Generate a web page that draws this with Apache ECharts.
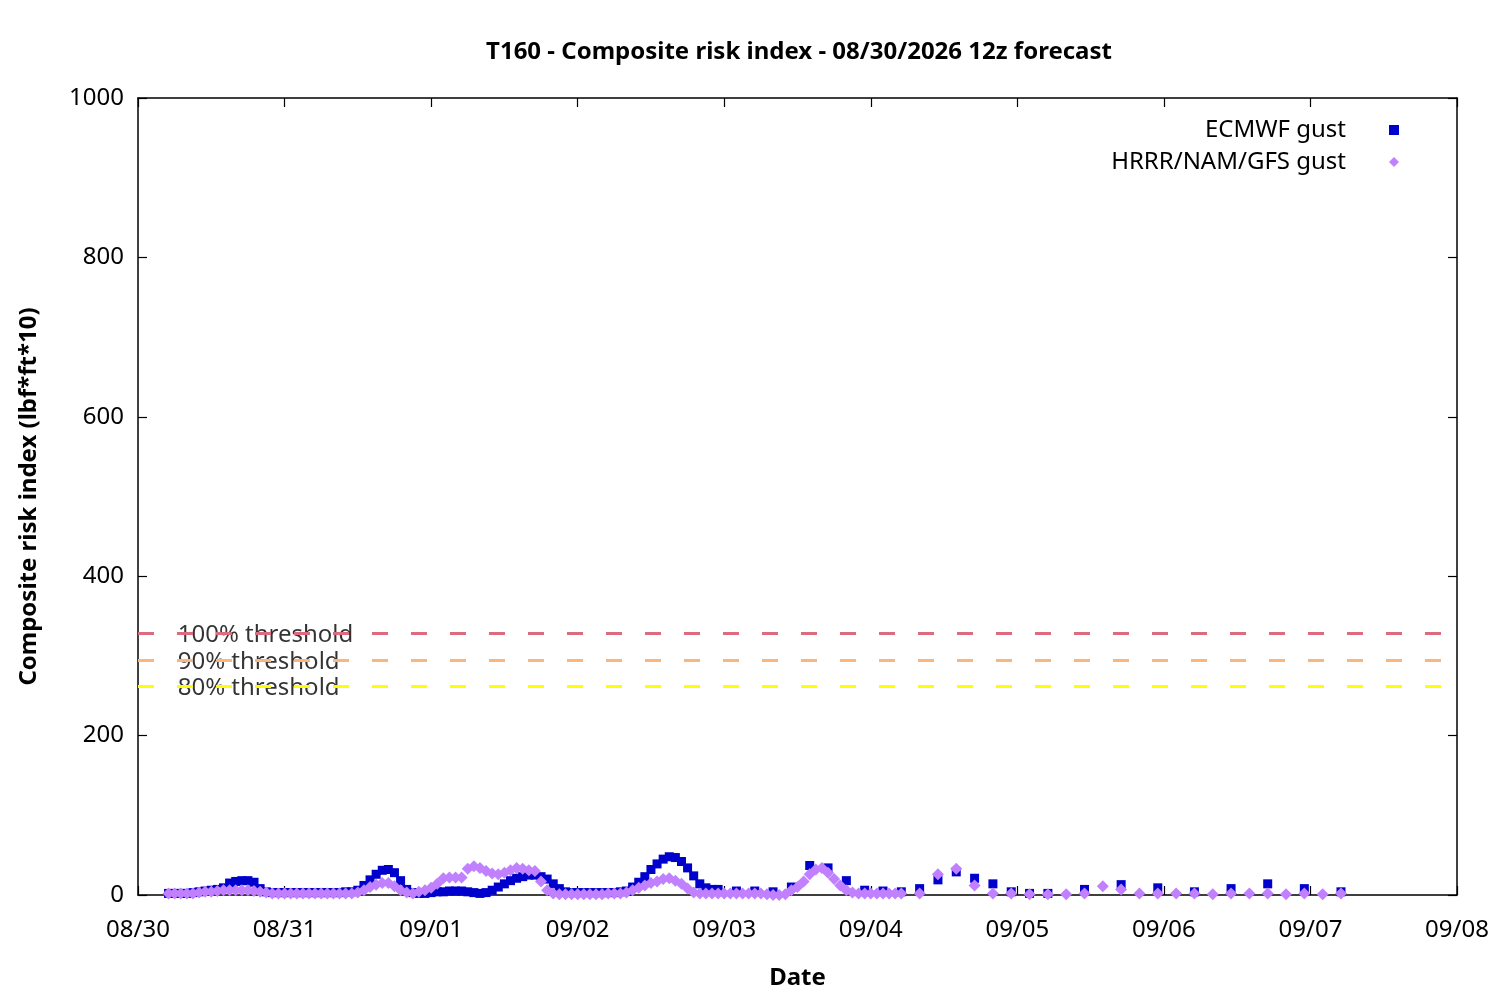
<!DOCTYPE html>
<html>
<head>
<meta charset="UTF-8">
<title>T160 composite risk index</title>
<script src="https://cdn.jsdelivr.net/npm/echarts@6/dist/echarts.min.js"></script>
<style>
  html, body { margin: 0; padding: 0; background: #fff; }
  #chart { width: 1500px; height: 1000px; }
</style>
</head>
<body>
<div id="chart"></div>
<script type="text/javascript">
// x axis: one tick per day at 00 local, value = hours since 08/30 00:00
var dayLabels = ['08/30', '08/31', '09/01', '09/02', '09/03', '09/04', '09/05', '09/06', '09/07', '09/08'];
// first valid time of the 12z run is 08/30 05:00 local
var runStartHour = 5;

// forecast steps (hours after run start) of each model's output
function steps(from, to, every) {
    var out = [];
    for (var h = from; h <= to; h += every) out.push(h);
    return out;
}
var ecmwfSteps = steps(0, 90, 1).concat(steps(93, 144, 3), steps(150, 192, 6));
var hrrrSteps = steps(0, 120, 1).concat(steps(123, 192, 3));

// ECMWF gust composite risk index
var ecmwfValues = [
    2, 2, 2, 2, 3, 4, 5, 6, 7, 9,
    15, 17, 18, 18, 16, 8, 4, 3, 3, 3,
    3, 3, 3, 3, 3, 3, 3, 3, 3, 4,
    4, 6, 12, 19, 26, 31, 32, 28, 18, 7,
    3, 2, 2, 3, 4, 4, 5, 5, 5, 4,
    3, 2, 3, 6, 10, 14, 18, 21, 23, 25,
    25, 23, 20, 14, 8, 4, 3, 3, 3, 3,
    3, 3, 3, 3, 4, 5, 10, 16, 23, 32,
    39, 45, 48, 47, 42, 34, 24, 14, 9, 7,
    7,
    // 3-hourly
    5, 5, 4, 10, 37, 34, 18, 6, 5, 4, 8, 19, 29, 21, 14, 4, 2, 2,
    // 6-hourly
    7, 13, 9, 4, 8, 14, 8, 4
];

// HRRR/NAM/GFS gust composite risk index
var hrrrValues = [
    2, 2, 2, 2, 2, 3, 4, 4, 5, 6,
    6, 6, 6, 6, 5, 4, 3, 2, 2, 2,
    2, 2, 2, 2, 2, 2, 2, 2, 2, 2,
    2, 3, 6, 10, 13, 15, 15, 11, 6, 3,
    2, 4, 6, 9, 14, 21, 22, 22, 22, 33,
    36, 34, 30, 27, 26, 28, 31, 34, 33, 31,
    30, 17, 6, 2, 1, 1, 1, 1, 1, 1,
    1, 1, 2, 2, 2, 3, 6, 9, 12, 15,
    17, 20, 21, 18, 14, 8, 3, 2, 2, 2,
    2, 2, 2, 2, 2, 2, 2, 2, 1, 0,
    0, 1, 6, 10, 17, 26, 32, 34, 28, 20,
    12, 6, 3, 2, 2, 2, 2, 2, 2, 2,
    2,
    // 3-hourly
    2, 26, 33, 12, 2, 2, 1, 1, 1, 2, 11, 7, 2, 2, 2, 2, 1, 2, 2, 2, 1, 2, 1, 2
];

// thresholds
var thresholdNames = ['100% threshold', '90% threshold', '80% threshold'];
var thresholdValues = [329, 295, 262];
var thresholdColors = ['#dd6b7f', '#f9b77e', '#ffff00'];
var thresholdLabelHour = 6.5;

function toPoints(stepList, values) {
    return values.map(function (v, i) { return [runStartHour + stepList[i], v]; });
}

var FONT = 'Noto Sans';
var myChart = echarts.init(document.getElementById('chart'));

var xBase = {
    type: 'value', min: 0, max: 216, interval: 24,
    axisLine: { show: true, onZero: false, lineStyle: { color: '#000', width: 1.5 } },
    axisTick: { show: true, inside: true, length: 9, lineStyle: { color: '#000', width: 1.2 } },
    splitLine: { show: false }
};
var yBase = {
    type: 'value', min: 0, max: 1000, interval: 200,
    axisLine: { show: true, onZero: false, lineStyle: { color: '#000', width: 1.5 } },
    axisTick: { show: true, inside: true, length: 9, lineStyle: { color: '#000', width: 1.2 } },
    splitLine: { show: false }
};

var option = {
    animation: false,
    backgroundColor: '#fff',
    textStyle: { fontFamily: FONT },
    title: {
        text: 'T160 - Composite risk index - 08/30/2026 12z forecast',
        left: 794, top: 35, textAlign: 'center',
        textStyle: { fontFamily: FONT, fontSize: 24, fontWeight: 'bold', color: '#000' }
    },
    legend: {
        data: ['ECMWF gust', 'HRRR/NAM/GFS gust'],
        orient: 'vertical', align: 'right',
        right: 96, top: 113,
        itemWidth: 10, itemHeight: 10, itemGap: 8,
        textStyle: { fontFamily: FONT, fontSize: 24, color: '#000', padding: [0, 38, 0, 0] }
    },
    grid: { left: 138, right: 43, top: 98, bottom: 105, containLabel: false },
    xAxis: [
        Object.assign({}, xBase, {
            position: 'bottom',
            axisLabel: {
                fontFamily: FONT, fontSize: 24, color: '#000', margin: 23,
                formatter: function (v) { return dayLabels[Math.round(v / 24)]; }
            },
            name: 'Date', nameLocation: 'middle', nameGap: 71,
            nameTextStyle: { fontFamily: FONT, fontSize: 24, fontWeight: 'bold', color: '#000' }
        }),
        Object.assign({}, xBase, { position: 'top', axisLabel: { show: false } })
    ],
    yAxis: [
        Object.assign({}, yBase, {
            position: 'left',
            axisLabel: {
                fontFamily: FONT, fontSize: 24, color: '#000', margin: 14,
                formatter: function (v) { return String(v); }
            },
            name: 'Composite risk index (lbf*ft*10)', nameLocation: 'middle', nameGap: 97,
            nameTextStyle: { fontFamily: FONT, fontSize: 24, fontWeight: 'bold', color: '#000' }
        }),
        Object.assign({}, yBase, { position: 'right', axisLabel: { show: false } })
    ],
    series: [
        {
            name: 'thresholds',
            type: 'scatter',
            symbolSize: 0,
            silent: true,
            z: 1,
            data: thresholdValues.map(function (v, i) {
                return {
                    value: [thresholdLabelHour, v],
                    label: {
                        show: true, position: 'right', distance: 0, offset: [0, 2],
                        formatter: thresholdNames[i],
                        fontFamily: FONT, fontSize: 24, color: '#000'
                    }
                };
            }),
            markLine: {
                silent: true, symbol: 'none', z: 3,
                label: { show: false },
                data: thresholdValues.map(function (v, i) {
                    return {
                        yAxis: v,
                        lineStyle: { color: thresholdColors[i], width: 3, type: [16, 23] }
                    };
                })
            }
        },
        {
            name: 'ECMWF gust',
            type: 'scatter',
            symbol: 'rect',
            symbolSize: 9,
            itemStyle: { color: '#0000cc', opacity: 1 },
            z: 4,
            data: toPoints(ecmwfSteps, ecmwfValues)
        },
        {
            name: 'HRRR/NAM/GFS gust',
            type: 'scatter',
            symbol: 'diamond',
            symbolSize: 12,
            itemStyle: { color: '#c080ff', opacity: 1 },
            z: 5,
            data: toPoints(hrrrSteps, hrrrValues)
        }
    ]
};
myChart.setOption(option);
window.onresize = myChart.resize;
</script>
</body>
</html>
